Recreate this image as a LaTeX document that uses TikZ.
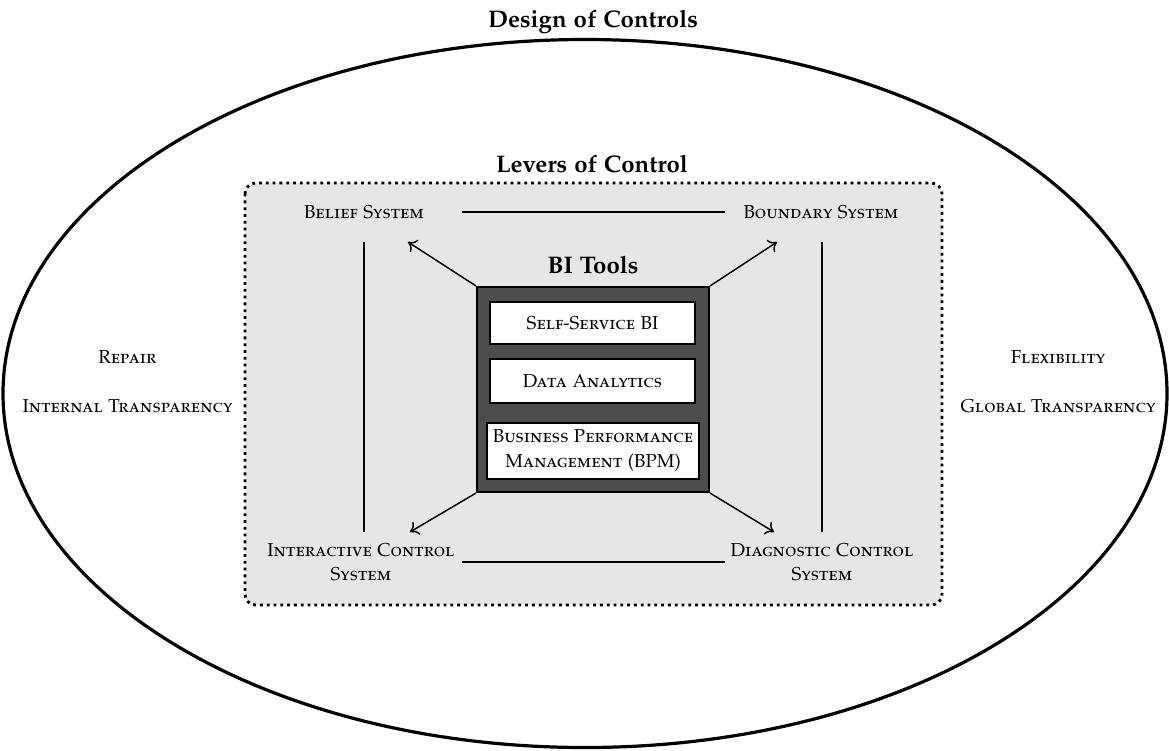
\documentclass[tikz,border=0pt]{standalone}
\usepackage[T1]{fontenc}
\usepackage[sc]{mathpazo}
\usetikzlibrary{arrows.meta}
\definecolor{levergray}{HTML}{E6E6E6}
\definecolor{bidark}{HTML}{4D4D4D}
\tikzset{
  sclabel/.style={anchor=base, inner sep=0pt, font=\fontsize{14}{18}\selectfont\scshape, align=center},
  titlelabel/.style={anchor=base, inner sep=0pt, font=\fontsize{18}{22}\selectfont\bfseries},
  toolbox/.style={draw=black, line width=1.5pt, fill=white, inner sep=0pt, align=center,
    font=\fontsize{14}{18.75}\selectfont\scshape},
  link/.style={line width=1.1pt},
  arr/.style={line width=1.1pt, -{To[length=6pt,width=11pt]}},
}
\begin{document}
\begin{tikzpicture}[x=0.75pt,y=-0.75pt]
\useasboundingbox (0,0) rectangle (1169,750);
% outer ellipse
\draw[line width=2.4pt] (585,393.5) ellipse [x radius=582, y radius=354];
\node[titlelabel] (design) at (593,27) {Design of Controls};
% levers of control area
\draw[fill=levergray, line width=2.1pt, dash pattern=on 2.1pt off 3pt, rounded corners=8pt] (245,183) rectangle (942,605);
\node[titlelabel] (levers) at (592,172) {Levers of Control};
% four systems
\node[sclabel] (belief) at (364,218) {Belief System};
\node[sclabel] (boundary) at (821,218) {Boundary System};
\node[sclabel, anchor=north] (interactive) at (361,543) {Interactive Control\\System};
\node[sclabel, anchor=north] (diagnostic) at (822,543) {Diagnostic Control\\System};
% BI tools
\node[titlelabel] (bititle) at (593,273) {BI Tools};
\node[draw=black, line width=1.6pt, fill=bidark, minimum width=174pt, minimum height=153.75pt, inner sep=0pt] (bi) at (593,389.5) {};
\node[toolbox, minimum width=153.75pt, minimum height=31.5pt] (ssbi) at (592.5,323) {Self-Service BI};
\node[toolbox, minimum width=153.75pt, minimum height=33pt] (da) at (592.5,381) {Data Analytics};
\node[toolbox, minimum width=159pt, minimum height=42pt] (bpm) at (593,451) {Business Performance\\Management (BPM)};
% connector end points
\coordinate (topL) at (462,212);
\coordinate (topR) at (725,212);
\coordinate (botL) at (462,562);
\coordinate (botR) at (725,562);
\coordinate (leftT) at (364,242);
\coordinate (leftB) at (364,532);
\coordinate (rightT) at (822,242);
\coordinate (rightB) at (822,532);
\coordinate (tipBelief) at (408,242);
\coordinate (tipBoundary) at (777,242);
\coordinate (tipInteractive) at (410,532);
\coordinate (tipDiagnostic) at (774,532);
\draw[link] (topL) -- (topR);
\draw[link] (botL) -- (botR);
\draw[link] (leftT) -- (leftB);
\draw[link] (rightT) -- (rightB);
\draw[arr] (bi.north west) -- (tipBelief);
\draw[arr] (bi.north east) -- (tipBoundary);
\draw[arr] (bi.south west) -- (tipInteractive);
\draw[arr] (bi.south east) -- (tipDiagnostic);
% side labels
\node[sclabel] (repair) at (127.5,363) {Repair};
\node[sclabel] (internal) at (127.5,412) {Internal Transparency};
\node[sclabel] (flex) at (1058,363) {Flexibility};
\node[sclabel] (global) at (1058,412) {Global Transparency};
\end{tikzpicture}
\end{document}
